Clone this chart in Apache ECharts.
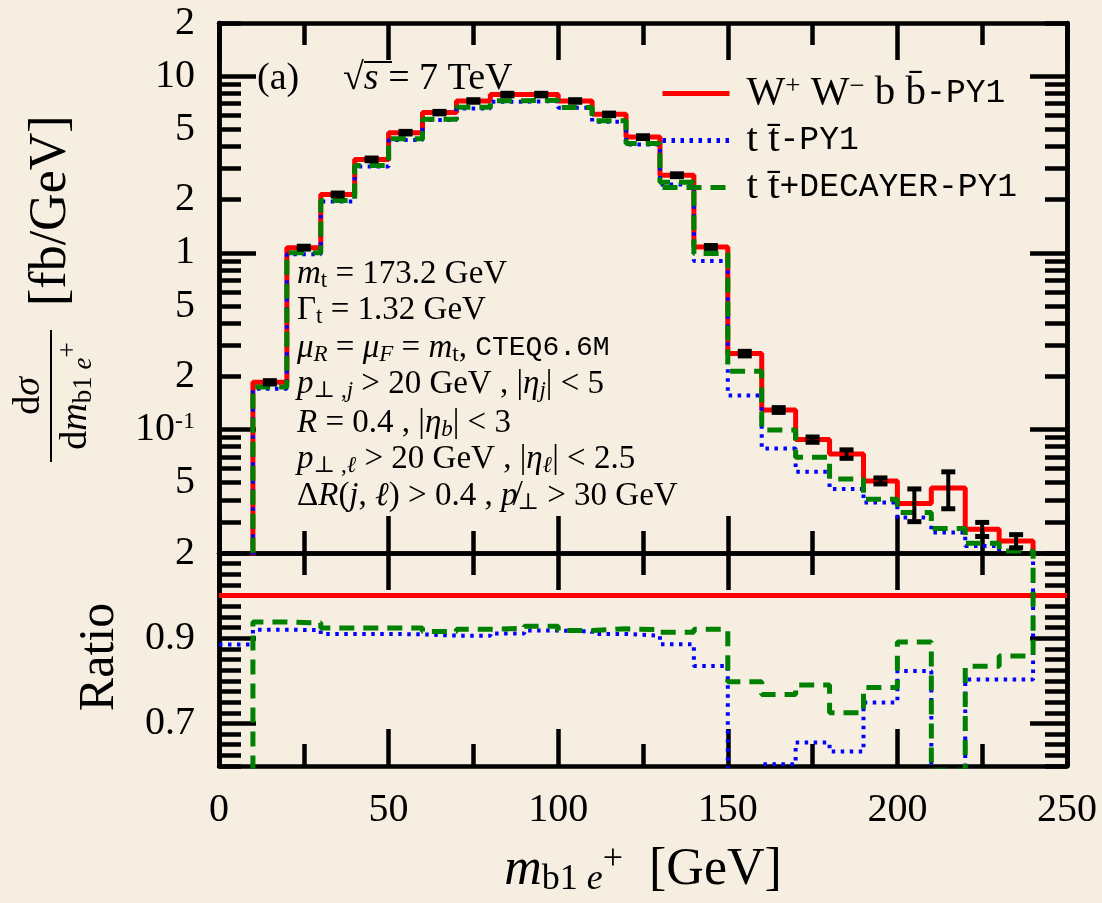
<!DOCTYPE html>
<html>
<head>
<meta charset="utf-8">
<script src="https://cdn.jsdelivr.net/npm/echarts@6/dist/echarts.min.js"></script>
<style>
html, body { margin: 0; padding: 0; background: #f6efe1; }
#chart { width: 1102px; height: 903px; }
</style>
</head>
<body>
<div id="chart"></div>
<script>
// bin left edges [GeV], 10 GeV bins
const binEdges = [0, 10, 20, 30, 40, 50, 60, 70, 80, 90, 100, 110, 120, 130, 140, 150, 160, 170, 180, 190, 200, 210, 220, 230, 240];
const xEnd = 250;

// dsigma/dm [fb/GeV]  (0.001 / 0.012 ... = below the plotted range)
const sigmaWWbb = [0.001, 0.185, 1.07, 2.14, 3.38, 4.79, 6.22, 7.24, 7.87, 7.87, 7.24, 6.08, 4.52, 2.75, 1.08,
  0.269, 0.129, 0.0877, 0.0727, 0.0512, 0.0381, 0.0466, 0.0273, 0.0234, 0.001];
const errWWbb = [0, 0.004, 0.02, 0.04, 0.06, 0.08, 0.1, 0.12, 0.13, 0.13, 0.12, 0.1, 0.08, 0.05, 0.02,
  0.008, 0.004, 0.003, 0.004, 0.002, 0.008, 0.011, 0.0025, 0.002, 0];
const sigmaTT = [0.001, 0.170, 0.983, 1.95, 3.08, 4.35, 5.64, 6.56, 7.17, 7.22, 6.63, 5.53, 4.10, 2.44, 0.90,
  0.156, 0.078, 0.0577, 0.046, 0.0386, 0.0318, 0.0261, 0.0219, 0.0188, 0.012];
const sigmaTTDec = [0.001, 0.174, 1.00, 1.98, 3.12, 4.43, 5.70, 6.67, 7.26, 7.30, 6.65, 5.60, 4.16, 2.51, 0.99,
  0.214, 0.0995, 0.0697, 0.0525, 0.0403, 0.0339, 0.0275, 0.0227, 0.0205, 0.015];

// ratio to W+W-bb (values outside 0.6..1.1 are off-scale)
const ratioWWbb = [1, 1, 1, 1, 1, 1, 1, 1, 1, 1, 1, 1, 1, 1, 1, 1, 1, 1, 1, 1, 1, 1, 1, 1, 1];
const ratioTT = [0.885, 0.920, 0.919, 0.910, 0.910, 0.909, 0.906, 0.906, 0.911, 0.918, 0.916, 0.910, 0.906, 0.886, 0.835,
  0.58, 0.604, 0.655, 0.634, 0.749, 0.823, 0.56, 0.803, 0.803, 1.5];
const ratioTTDec = [0.5, 0.938, 0.936, 0.924, 0.924, 0.924, 0.916, 0.921, 0.923, 0.928, 0.918, 0.922, 0.920, 0.914, 0.921,
  0.798, 0.768, 0.790, 0.725, 0.784, 0.891, 0.59, 0.834, 0.858, 1.5];

// ticks
const logLabelTicks = [0.02, 0.05, 0.1, 0.2, 0.5, 1, 2, 5, 10, 20];
const logMajorTicks = [0.1, 1, 10];
const logMinorTicks = [0.02, 0.03, 0.04, 0.05, 0.06, 0.07, 0.08, 0.09, 0.2, 0.3, 0.4, 0.5, 0.6, 0.7, 0.8, 0.9,
  2, 3, 4, 5, 6, 7, 8, 9, 20];
const ratioMajorTicks = [0.7, 0.9];
const ratioMinorTicks = [0.6, 0.625, 0.65, 0.675, 0.725, 0.75, 0.775, 0.8, 0.825, 0.85, 0.875, 0.925, 0.95, 0.975,
  1.0, 1.025, 1.05, 1.075, 1.1];

const serif = "'Liberation Serif', 'DejaVu Serif', serif";
const mono = "'Liberation Mono', 'DejaVu Sans Mono', monospace";
const ink = '#000';

// histogram as step line: left edges + closing point
function steps(vals) {
  const pts = binEdges.map((x, i) => [x, vals[i]]);
  pts.push([xEnd, vals[vals.length - 1]]);
  return pts;
}

function rich(size) {
  return {
    r: { fontFamily: serif, fontSize: size, lineHeight: size + 4, fill: ink },
    i: { fontFamily: serif, fontStyle: 'italic', fontSize: size, lineHeight: size + 4, fill: ink },
    sub: { fontFamily: serif, fontSize: Math.round(size * 0.7), lineHeight: Math.round(size * 0.5), verticalAlign: 'bottom', fill: ink },
    subi: { fontFamily: serif, fontStyle: 'italic', fontSize: Math.round(size * 0.7), lineHeight: Math.round(size * 0.5), verticalAlign: 'bottom', fill: ink },
    sup: { fontFamily: serif, fontSize: Math.round(size * 0.7), lineHeight: Math.round(size * 0.45), verticalAlign: 'top', fill: ink },
    tt: { fontFamily: mono, fontSize: Math.round(size * 0.85), lineHeight: size + 4, fill: ink }
  };
}

const axisLine = { show: true, onZero: false, lineStyle: { color: ink, width: 4.5 } };

function xAx(grid, pos, labels) {
  return {
    type: 'value', gridIndex: grid, position: pos, min: 0, max: xEnd, interval: 50,
    axisLine: axisLine,
    axisTick: { show: true, inside: true, length: 37, lineStyle: { color: ink, width: 4.5 } },
    minorTick: { show: true, splitNumber: 2, length: 22, lineStyle: { color: ink, width: 4.5 } },
    axisLabel: { show: labels, margin: 24, fontFamily: serif, fontSize: 40, color: ink },
    splitLine: { show: false }
  };
}

function logLabel(v) {
  if (Math.abs(v - 0.1) < 1e-9) return '{b|10}{s|-1}';
  if (Math.abs(v - 10) < 1e-9) return '10';
  if (Math.abs(v - 1) < 1e-9) return '1';
  const m = v / Math.pow(10, Math.floor(Math.log10(v) + 1e-9));
  return String(Math.round(m));
}

function yLog(pos, major) {
  return {
    type: 'log', logBase: 10, gridIndex: 0, position: pos, min: 0.02, max: 20,
    axisLine: axisLine,
    axisTick: { show: true, inside: true, length: major ? 37 : 22, customValues: major ? logMajorTicks : logMinorTicks,
      lineStyle: { color: ink, width: 4.5 } },
    minorTick: { show: false },
    axisLabel: { show: major && pos === 'left', customValues: logLabelTicks, formatter: logLabel, margin: 24,
      fontFamily: serif, fontSize: 40, color: ink,
      rich: { b: { fontFamily: serif, fontSize: 40, color: ink }, s: { fontFamily: serif, fontSize: 24, color: ink, verticalAlign: 'top', lineHeight: 20 } } },
    splitLine: { show: false }
  };
}

function yRatio(pos, major) {
  return {
    type: 'value', gridIndex: 1, position: pos, min: 0.6, max: 1.1,
    axisLine: axisLine,
    axisTick: { show: true, inside: true, length: major ? 37 : 22, customValues: major ? ratioMajorTicks : ratioMinorTicks,
      lineStyle: { color: ink, width: 4.5 } },
    minorTick: { show: false },
    axisLabel: { show: major && pos === 'left', customValues: ratioMajorTicks, margin: 24,
      fontFamily: serif, fontSize: 40, color: ink },
    splitLine: { show: false }
  };
}

const red = '#ff0000', blue = '#0000ff', green = '#008000';
const names = ['WWbb', 'tt', 'ttdec'];
const legendText = {
  WWbb: '{g| }{r|W}{sup|+}{r| W}{sup|−}{r| b b\u0304}{tt|-PY1}',
  tt: '{g| }{r|t t\u0304}{tt|-PY1}',
  ttdec: '{g| }{r|t t\u0304}{tt|+DECAYER-PY1}'
};

const errData = [];
binEdges.forEach((x, i) => {
  if (errWWbb[i] > 0) errData.push([x + 5, sigmaWWbb[i], errWWbb[i]]);
});

function renderErr(params, api) {
  const x = api.value(0), y = api.value(1), e = api.value(2);
  const hi = api.coord([x, y + e]);
  const lo = api.coord([x, y - e]);
  const hw = 7;
  const st = { stroke: ink, lineWidth: 5 };
  return {
    type: 'group',
    children: [
      { type: 'line', shape: { x1: hi[0], y1: hi[1], x2: lo[0], y2: lo[1] }, style: { stroke: ink, lineWidth: 4 } },
      { type: 'line', shape: { x1: hi[0] - hw, y1: hi[1], x2: hi[0] + hw, y2: hi[1] }, style: st },
      { type: 'line', shape: { x1: lo[0] - hw, y1: lo[1], x2: lo[0] + hw, y2: lo[1] }, style: st }
    ]
  };
}

function txt(x, y, text, size, extra) {
  return {
    type: 'text', x: x, y: y, z: 100,
    style: Object.assign({ text: text, rich: rich(size), fontFamily: serif, fontSize: size, fill: ink,
      align: 'left', verticalAlign: 'middle' }, extra || {})
  };
}

const notes = [
  [274, '{i|m}{sub|t}{r| = 173.2 GeV}'],
  [310, '{r|Γ}{sub|t}{r| = 1.32 GeV}'],
  [348, '{i|μ}{subi|R}{r| = }{i|μ}{subi|F}{r| = }{i|m}{sub|t}{r|, }{tt|CTEQ6.6M}'],
  [384, '{i|p}{sub|⊥ ,}{subi|j}{r| > 20 GeV , |}{i|η}{subi|j}{r|| < 5}'],
  [423, '{i|R}{r| = 0.4 , |}{i|η}{subi|b}{r|| < 3}'],
  [459, '{i|p}{sub|⊥ ,}{subi|ℓ}{r| > 20 GeV , |}{i|η}{subi|ℓ}{r|| < 2.5}'],
  [496, '{r|Δ}{i|R}{r|(}{i|j}{r|, }{i|ℓ}{r|) > 0.4 , }{i|p\u0338}{sub|⊥}{r| > 30 GeV}']
];

const ratioLabel = txt(100, 657, '{r|Ratio}', 50, { align: 'center' });
ratioLabel.rotation = Math.PI / 2;

const graphics = [
  txt(257, 79, '{r|(a)}', 38),
  txt(343, 79, '{r|√}{i|s}{r| = 7 TeV}', 38),
  { type: 'line', z: 100, shape: { x1: 364, y1: 62, x2: 392, y2: 62 }, style: { stroke: ink, lineWidth: 2 } },
  txt(643, 870, '{i|m}{sub|b1 }{subi|e}{sup|+}{r|  [GeV]}', 52, { align: 'center' }),
  ratioLabel,
  {
    type: 'group', x: 51, y: 396, rotation: Math.PI / 2, z: 100,
    children: [
      { type: 'line', shape: { x1: -66, y1: 0, x2: 66, y2: 0 }, style: { stroke: ink, lineWidth: 2 } },
      txt(0, -22, '{r|d}{i|σ}', 38, { align: 'center' }),
      txt(0, 25, '{r|d}{i|m}{sub|b1 }{subi|e}{sup|+}', 38, { align: 'center' }),
      txt(90, 0, '{r|[fb/GeV]}', 52)
    ]
  }
];
notes.forEach(n => graphics.push(txt(297, n[0], n[1], 33)));

const chart = echarts.init(document.getElementById('chart'));
chart.setOption({
  animation: false,
  backgroundColor: '#f6efe1',
  grid: [
    { left: 219, right: 35, top: 23, height: 530, outerBoundsMode: 'none' },
    { left: 219, right: 35, top: 553, height: 213, outerBoundsMode: 'none' }
  ],
  xAxis: [xAx(0, 'bottom', false), xAx(0, 'top', false), xAx(1, 'bottom', true), xAx(1, 'top', false)],
  yAxis: [yLog('left', true), yLog('left', false), yLog('right', true), yLog('right', false),
    yRatio('left', true), yRatio('left', false), yRatio('right', true), yRatio('right', false)],
  legend: {
    data: names, orient: 'vertical', left: 660, top: 73, padding: 0,
    itemWidth: 67, itemHeight: 14, itemGap: 6,
    itemStyle: { color: 'rgba(0,0,0,0)', borderWidth: 0 },
    lineStyle: { width: 5 },
    formatter: n => legendText[n],
    textStyle: {
      color: ink, fontFamily: serif, fontSize: 40, lineHeight: 40,
      rich: {
        g: { width: 12, fontSize: 10, color: ink },
        r: { fontFamily: serif, fontSize: 41, lineHeight: 40, color: ink },
        sup: { fontFamily: serif, fontSize: 27, lineHeight: 18, verticalAlign: 'top', color: ink },
        tt: { fontFamily: mono, fontSize: 33, lineHeight: 40, color: ink }
      }
    }
  },
  graphic: graphics,
  series: [
    { name: 'WWbb', type: 'line', xAxisIndex: 0, yAxisIndex: 0, step: 'end', data: steps(sigmaWWbb), symbol: 'none',
      lineStyle: { color: red, width: 5 }, itemStyle: { color: red }, z: 2 },
    { name: 'tt', type: 'line', xAxisIndex: 0, yAxisIndex: 0, step: 'end', data: steps(sigmaTT), symbol: 'none',
      lineStyle: { color: blue, width: 4, type: [3.5, 5.5] }, itemStyle: { color: blue }, z: 3 },
    { name: 'ttdec', type: 'line', xAxisIndex: 0, yAxisIndex: 0, step: 'end', data: steps(sigmaTTDec), symbol: 'none',
      lineStyle: { color: green, width: 5, type: [15, 9] }, itemStyle: { color: green }, z: 4 },
    { name: 'err', type: 'custom', xAxisIndex: 0, yAxisIndex: 0, data: errData, renderItem: renderErr,
      encode: { x: 0, y: 1 }, z: 5 },
    { name: 'rWWbb', type: 'line', xAxisIndex: 2, yAxisIndex: 4, step: 'end', data: steps(ratioWWbb), symbol: 'none',
      lineStyle: { color: red, width: 5 }, z: 2 },
    { name: 'rtt', type: 'line', xAxisIndex: 2, yAxisIndex: 4, step: 'end', data: steps(ratioTT), symbol: 'none',
      lineStyle: { color: blue, width: 4, type: [3.5, 5.5] }, z: 3 },
    { name: 'rttdec', type: 'line', xAxisIndex: 2, yAxisIndex: 4, step: 'end', data: steps(ratioTTDec), symbol: 'none',
      lineStyle: { color: green, width: 5, type: [15, 9] }, z: 4 }
  ]
});
</script>
</body>
</html>
